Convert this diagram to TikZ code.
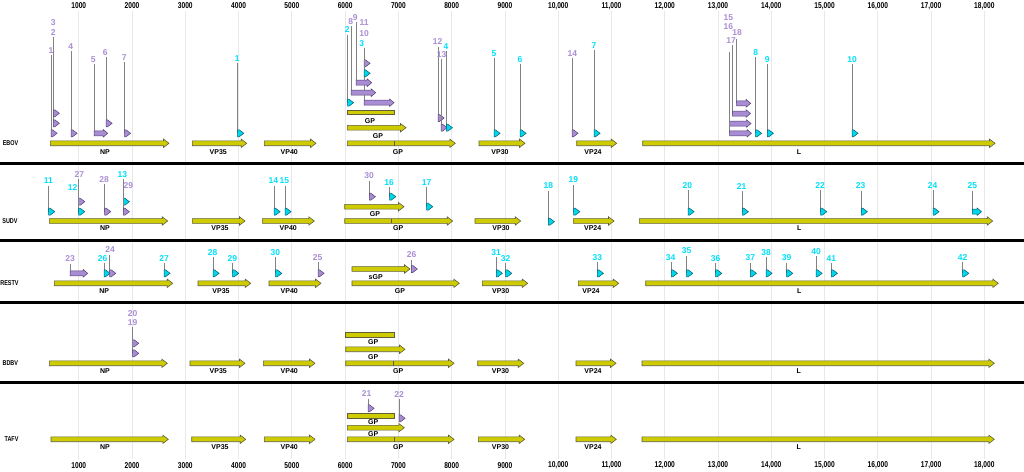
\documentclass[tikz,border=0pt]{standalone}
\usepackage{fontspec}
\setmainfont{Liberation Sans}
\newfontfamily\nar[FakeStretch=0.78]{Liberation Sans}
\definecolor{genef}{RGB}{206,204,0}
\definecolor{gened}{RGB}{95,95,60}
\definecolor{purf}{RGB}{168,140,212}
\definecolor{purt}{RGB}{170,142,214}
\definecolor{purd}{RGB}{85,65,115}
\definecolor{cyaf}{RGB}{0,215,235}
\definecolor{cyat}{RGB}{0,224,250}
\definecolor{cyad}{RGB}{10,90,110}
\definecolor{gridc}{RGB}{232,232,232}
\definecolor{stemc}{RGB}{130,130,130}
\tikzset{
  genebody/.style={fill=genef, draw=gened, line width=0.6pt},
  glab/.style={font=\bfseries\fontsize{7}{7}\selectfont, inner sep=0pt},
  axlab/.style={font=\nar\bfseries\fontsize{8.5}{8.5}\selectfont, inner sep=0pt},
  rowlab/.style={font=\nar\bfseries\fontsize{7}{7}\selectfont, inner sep=0pt},
  nlab/.style={font=\bfseries\fontsize{8.5}{8.5}\selectfont, inner sep=0pt},
  pum/.style={fill=purf, draw=purd, line width=0.5pt},
  cym/.style={fill=cyaf, draw=cyad, line width=0.5pt},
  stem/.style={draw=stemc, line width=0.9pt},
  sepline/.style={line width=3pt, draw=black},
  gridl/.style={draw=gridc, line width=0.8pt}
}
% gene arrow: x1, x2, y
\newcommand\gn[3]{\path[genebody] (#1,{#3-2.4}) -- ({#2-5.5},{#3-2.4}) -- ({#2-5.5},{#3-4.2}) -- (#2,#3) -- ({#2-5.5},{#3+4.2}) -- ({#2-5.5},{#3+2.4}) -- (#1,{#3+2.4}) -- cycle;}
% gene bar (no head)
\newcommand\gb[3]{\path[genebody] (#1,{#3-2.4}) rectangle (#2,{#3+2.4}); \draw[gened, line width=1.3pt] (#2,{#3-2.7}) -- (#2,{#3+2.7});}
% edit tick
\newcommand\ed[2]{\draw[gened, line width=0.9pt] (#1,{#2-2.4}) -- (#1,{#2+2.4});}
% gene label: id, x, y, text
\newcommand\gl[4]{\node[glab] (#1) at (#2,#3) {#4};}
% number label: id, colour, x, y, text
\newcommand\lb[5]{\node[nlab, text=#2] (#1) at (#3,#4) {#5};}
% small marker: id, style, mx, my, linetop
\newcommand\mk[5]{\coordinate (#1t) at (#3,#5); \coordinate (#1m) at (#3,#4);
  \draw[stem] (#1t) -- (#1m);
  \path[#2] (#3,{#4-3.5}) -- ++(1.5,0) -- ++(4.6,3.5) -- ++(-4.6,3.5) -- ++(-1.5,0) -- cycle;}
% arrow marker: id, style, mx, my, linetop, endx
\newcommand\mka[6]{\coordinate (#1t) at (#3,#5); \coordinate (#1m) at (#3,#4);
  \draw[stem] (#1t) -- (#1m);
  \path[#2] (#3,{#4-2.5}) -- ({#6-4.5},{#4-2.5}) -- ({#6-4.5},{#4-3.8}) -- (#6,#4) -- ({#6-4.5},{#4+3.8}) -- ({#6-4.5},{#4+2.5}) -- (#3,{#4+2.5}) -- cycle;}
\begin{document}
\begin{tikzpicture}[x=1pt,y=-1pt]
\useasboundingbox (0,0) rectangle (1024,471);
\fill[white] (0,0) rectangle (1024,471);
% grid and axis labels
\foreach \k/\t in {1/1000,2/2000,3/3000,4/4000,5/5000,6/6000,7/7000,8/8000,9/9000,10/{10,000},11/{11,000},12/{12,000},13/{13,000},14/{14,000},15/{15,000},16/{16,000},17/{17,000},18/{18,000}}{
  \draw[gridl] ({25.5+53.27*\k},11) -- ({25.5+53.27*\k},459);
  \node[axlab] (top\k) at ({25.5+53.27*\k},6) {\t};
  \node[axlab] (bot\k) at ({25.5+53.27*\k},465.5) {\t};
}
% separators
\foreach \y/\n in {163/a,240.3/b,302.3/c,382.3/d}{
  \coordinate (s\n l) at (0,\y); \coordinate (s\n r) at (1024,\y);
  \draw[sepline] (s\n l) -- (s\n r);
}
% row labels
\node[rowlab] (rEBOV) at (10.5,143.3) {EBOV};
\node[rowlab] (rSUDV) at (10,221) {SUDV};
\node[rowlab] (rRESTV) at (9.5,283.3) {RESTV};
\node[rowlab] (rBDBV) at (10.3,363.3) {BDBV};
\node[rowlab] (rTAFV) at (11.5,439.3) {TAFV};

% ===== EBOV genes
\gn{50.3}{169}{143.3} \gl{eNP}{105}{151.7}{NP}
\gn{192.3}{246.7}{143.3} \gl{eVPa}{218.3}{151.7}{VP35}
\gn{264.3}{316}{143.3} \gl{eVPb}{289.3}{151.7}{VP40}
\gn{347.3}{455.3}{143.3} \ed{394}{143.3} \gl{eGP}{398}{151.7}{GP}
\gn{347.3}{406}{127.7} \gl{eGPb}{378}{135.7}{GP}
\gb{347.3}{394.3}{112.3} \gl{eGPc}{370}{121}{GP}
\gn{479}{525}{143.3} \gl{eVPc}{500}{151.7}{VP30}
\gn{576.7}{616.7}{143.3} \gl{eVPd}{593}{151.7}{VP24}
\gn{642.7}{995}{143.3} \gl{eL}{799}{151.7}{L}
% ===== SUDV genes
\gn{49.3}{167.7}{221} \gl{sNP}{105}{228.5}{NP}
\gn{192.3}{245}{221} \gl{sVPa}{220}{228.5}{VP35}
\gn{262.3}{314.3}{221} \gl{sVPb}{288.3}{228.5}{VP40}
\gn{344.7}{452.7}{221} \ed{391}{221} \gl{sGP}{398.3}{228.5}{GP}
\gn{344.7}{404}{206.7} \gl{sGPb}{375}{214}{GP}
\gn{475}{520.7}{221} \gl{sVPc}{501}{228.5}{VP30}
\gn{573.3}{614}{221} \gl{sVPd}{592.7}{228.5}{VP24}
\gn{639.3}{992.7}{221} \gl{sL}{799.3}{228.5}{L}
% ===== RESTV genes
\gn{54.3}{172.7}{283.3} \gl{rNP}{104.3}{291}{NP}
\gn{198}{250.7}{283.3} \gl{rVPa}{221}{291}{VP35}
\gn{269}{321}{283.3} \gl{rVPb}{289.3}{291}{VP40}
\gn{352}{459.3}{283.3} \gl{rGP}{400}{291}{GP}
\gn{352}{410}{269} \gl{rsGP}{375.7}{276.7}{sGP}
\gn{482.3}{527.7}{283.3} \gl{rVPc}{500.7}{291}{VP30}
\gn{578.3}{618.7}{283.3} \gl{rVPd}{591}{291}{VP24}
\gn{645.7}{998.3}{283.3} \gl{rL}{799.3}{291}{L}
% ===== BDBV genes
\gn{49.3}{167.3}{363.3} \gl{bNP}{105}{371}{NP}
\gn{190}{245}{363.3} \gl{bVPa}{218.3}{371}{VP35}
\gn{263.3}{315}{363.3} \gl{bVPb}{289.3}{371}{VP40}
\gn{345.7}{454}{363.3} \ed{393.3}{363.3} \gl{bGP}{398.3}{371}{GP}
\gn{345.7}{405}{349.3} \gl{bGPb}{373.3}{356.7}{GP}
\gb{345.7}{394.3}{334.7} \gl{bGPc}{373.3}{342.3}{GP}
\gn{477.7}{523.7}{363.3} \gl{bVPc}{500.5}{371}{VP30}
\gn{576}{616}{363.3} \gl{bVPd}{593}{371}{VP24}
\gn{642}{994.3}{363.3} \gl{bL}{798.7}{371}{L}
% ===== TAFV genes
\gn{51}{168.3}{439.3} \gl{tNP}{105}{447.5}{NP}
\gn{191.7}{245.7}{439.3} \gl{tVPa}{220}{447.5}{VP35}
\gn{264.3}{315}{439.3} \gl{tVPb}{289.3}{447.5}{VP40}
\gn{347.3}{454}{439.3} \ed{394.3}{439.3} \gl{tGP}{398.3}{447.5}{GP}
\gn{347.3}{404.3}{427.7} \gl{tGPb}{373.3}{434.5}{GP}
\gb{347.3}{394.3}{416} \gl{tGPc}{373.3}{422.5}{GP}
\gn{478.3}{524.7}{439.3} \gl{tVPc}{500.5}{447.5}{VP30}
\gn{576}{616.3}{439.3} \gl{tVPd}{593}{447.5}{VP24}
\gn{642}{994.3}{439.3} \gl{tL}{798.7}{447.5}{L}

% ===== EBOV annotations
\mk{Ae1}{pum}{51}{133.3}{54.5} \lb{Le1}{purt}{51}{51}{1}
\mk{Ae2}{pum}{53.3}{123.3}{36.5} \lb{Le2}{purt}{53.3}{32.5}{2}
\mk{Ae3}{pum}{53.3}{113.3}{36.5} \lb{Le3}{purt}{53.3}{22.5}{3}
\mk{Ae4}{pum}{71}{133.3}{51} \lb{Le4}{purt}{70.7}{47}{4}
\mka{Ae5}{pum}{94}{133.3}{64}{107.7} \lb{Le5}{purt}{93.3}{60}{5}
\mk{Ae6}{pum}{106}{123.3}{57} \lb{Le6}{purt}{105.3}{52.7}{6}
\mk{Ae7}{pum}{124.5}{133.3}{62} \lb{Le7}{purt}{124.3}{57.7}{7}
\mk{Ac1}{cym}{237.7}{133.3}{62.5} \lb{Lc1}{cyat}{237.3}{58.3}{1}
\mka{Ae10}{pum}{364}{102.7}{47.5}{394} \lb{Le10}{purt}{364}{34}{10}
\mk{Ac2}{cym}{347.5}{102.7}{34.5} \lb{Lc2}{cyat}{347.3}{30}{2}
\mka{Ae8}{pum}{351}{92.7}{26}{375.7} \lb{Le8}{purt}{350.7}{21.7}{8}
\mka{Ae9}{pum}{356}{82.7}{22}{371.7} \lb{Le9}{purt}{355.3}{17.7}{9}
\mk{Ae11}{pum}{364}{63.3}{47.5} \lb{Le11}{purt}{364}{22.7}{11}
\mk{Ac3}{cym}{364}{73.3}{47.5} \lb{Lc3}{cyat}{361.7}{43.7}{3}
\mk{Ae12}{pum}{438}{118}{46.5} \lb{Le12}{purt}{437.7}{42}{12}
\mk{Ae13}{pum}{441}{127.7}{58.5} \lb{Le13}{purt}{441.7}{54.3}{13}
\mk{Ac4}{cym}{446.3}{127.7}{51} \lb{Lc4}{cyat}{446}{47}{4}
\mk{Ac5}{cym}{494}{133.3}{57.5} \lb{Lc5}{cyat}{494}{53.3}{5}
\mk{Ac6}{cym}{520}{133.3}{63.5} \lb{Lc6}{cyat}{520}{59.3}{6}
\mk{Ae14}{pum}{572}{133.3}{57.5} \lb{Le14}{purt}{572.3}{53.3}{14}
\mk{Ac7}{cym}{594}{133.3}{50} \lb{Lc7}{cyat}{594}{45.7}{7}
\mka{Ae15}{pum}{729.5}{123.5}{51.7}{751} \lb{Le15}{purt}{728.3}{17.7}{15}
\mka{Ae16}{pum}{729.5}{133.3}{51.7}{751.5} \lb{Le16}{purt}{728.3}{26.7}{16}
\mka{Ae17}{pum}{732.3}{113.5}{45}{750.5} \lb{Le17}{purt}{731}{41}{17}
\mka{Ae18}{pum}{736.7}{103.3}{39.3}{750.7} \lb{Le18}{purt}{737}{32.5}{18}
\mk{Ac8}{cym}{755.5}{133.3}{57} \lb{Lc8}{cyat}{755.7}{52.7}{8}
\mk{Ac9}{cym}{767.3}{133.3}{63.5} \lb{Lc9}{cyat}{767.3}{59.3}{9}
\mk{Ac10}{cym}{852}{133.3}{64} \lb{Lc10}{cyat}{852}{60}{10}

% ===== SUDV annotations
\mk{Ac11}{cym}{48.7}{211.7}{185.5} \lb{Lc11}{cyat}{48.3}{181}{11}
\mk{Ae27}{pum}{78.7}{201.7}{179} \lb{Le27}{purt}{79.3}{174.7}{27}
\mk{Ac12}{cym}{78.7}{211.7}{179} \lb{Lc12}{cyat}{72.7}{187.5}{12}
\mk{Ae28}{pum}{104.7}{211.7}{183.5} \lb{Le28}{purt}{104}{179.3}{28}
\mk{Ac13}{cym}{123.3}{201.7}{179} \lb{Lc13}{cyat}{122.3}{174.7}{13}
\mk{Ae29}{pum}{123.3}{211.7}{179} \lb{Le29}{purt}{128.3}{186}{29}
\mk{Ac14}{cym}{274}{211.7}{185.5} \lb{Lc14}{cyat}{273.3}{181}{14}
\mk{Ac15}{cym}{285}{211.7}{185.5} \lb{Lc15}{cyat}{284.3}{181}{15}
\mk{Ae30}{pum}{369.3}{196.7}{180.5} \lb{Le30}{purt}{369}{176}{30}
\mk{Ac16}{cym}{389.7}{196.7}{186.5} \lb{Lc16}{cyat}{389}{182.3}{16}
\mk{Ac17}{cym}{426.7}{206.7}{186.5} \lb{Lc17}{cyat}{426.7}{182.3}{17}
\mk{Ac18}{cym}{548.3}{221.7}{190.5} \lb{Lc18}{cyat}{548.3}{186}{18}
\mk{Ac19}{cym}{573.7}{211.7}{184.5} \lb{Lc19}{cyat}{573.3}{180}{19}
\mk{Ac20}{cym}{688}{211.7}{190} \lb{Lc20}{cyat}{687.3}{185.7}{20}
\mk{Ac21}{cym}{742.3}{211.7}{191} \lb{Lc21}{cyat}{741.7}{186.7}{21}
\mk{Ac22}{cym}{820.7}{211.7}{190} \lb{Lc22}{cyat}{820}{185.3}{22}
\mk{Ac23}{cym}{861.3}{211.7}{190.5} \lb{Lc23}{cyat}{860.7}{186}{23}
\mk{Ac24}{cym}{933}{211.7}{190} \lb{Lc24}{cyat}{932.7}{185.7}{24}
\mka{Ac25}{cym}{972.3}{211.7}{190.5}{981.5} \lb{Lc25}{cyat}{972.3}{186}{25}

% ===== RESTV annotations
\mka{Ae23}{pum}{70}{273.3}{263.5}{87.7} \lb{Le23}{purt}{70}{259}{23}
\mk{Ac26}{cym}{104}{273.3}{262.5} \lb{Lc26}{cyat}{102.7}{258.3}{26}
\mk{Ae24}{pum}{109.7}{273.3}{254.5} \lb{Le24}{purt}{110}{250}{24}
\mk{Ac27}{cym}{164}{273.3}{262.5} \lb{Lc27}{cyat}{164}{258.3}{27}
\mk{Ac28}{cym}{213}{273.3}{257} \lb{Lc28}{cyat}{212.7}{252.7}{28}
\mk{Ac29}{cym}{232.7}{273.3}{262.5} \lb{Lc29}{cyat}{232.3}{258.3}{29}
\mk{Ac30}{cym}{275.7}{273.3}{257} \lb{Lc30}{cyat}{275.3}{252.7}{30}
\mk{Ae25}{pum}{318}{273.3}{262} \lb{Le25}{purt}{317.7}{257.7}{25}
\mk{Ae26}{pum}{411.3}{269}{259.5} \lb{Le26}{purt}{411.7}{255}{26}
\mk{Ac31}{cym}{496.3}{273.3}{256.5} \lb{Lc31}{cyat}{496}{252.3}{31}
\mk{Ac32}{cym}{505.7}{273.3}{263} \lb{Lc32}{cyat}{505.7}{258.7}{32}
\mk{Ac33}{cym}{597.3}{273.3}{262} \lb{Lc33}{cyat}{597.3}{257.7}{33}
\mk{Ac34}{cym}{671.3}{273.3}{262} \lb{Lc34}{cyat}{670.7}{257.7}{34}
\mk{Ac35}{cym}{686.7}{273.3}{255.5} \lb{Lc35}{cyat}{686.7}{251}{35}
\mk{Ac36}{cym}{715.7}{273.3}{262.5} \lb{Lc36}{cyat}{715.7}{258.3}{36}
\mk{Ac37}{cym}{750.3}{273.3}{262.5} \lb{Lc37}{cyat}{750.3}{258}{37}
\mk{Ac38}{cym}{766}{273.3}{256.5} \lb{Lc38}{cyat}{766}{252.3}{38}
\mk{Ac39}{cym}{786.7}{273.3}{262.5} \lb{Lc39}{cyat}{786.7}{258}{39}
\mk{Ac40}{cym}{816}{273.3}{256} \lb{Lc40}{cyat}{816}{251.7}{40}
\mk{Ac41}{cym}{831.3}{273.3}{262.5} \lb{Lc41}{cyat}{831.3}{258.3}{41}
\mk{Ac42}{cym}{962.7}{273.3}{261.5} \lb{Lc42}{cyat}{962.7}{257.3}{42}

% ===== BDBV annotations
\mk{Ae20}{pum}{132.7}{343.3}{327} \lb{Le20}{purt}{132.7}{313.3}{20}
\mk{Ae19}{pum}{132.7}{353.3}{327} \lb{Le19}{purt}{132.7}{322.7}{19}

% ===== TAFV annotations
\mk{Ae21}{pum}{368}{408.3}{398.5} \lb{Le21}{purt}{366.7}{394}{21}
\mk{Ae22}{pum}{399}{418.3}{398.5} \lb{Le22}{purt}{399}{394.3}{22}
\end{tikzpicture}
\end{document}
